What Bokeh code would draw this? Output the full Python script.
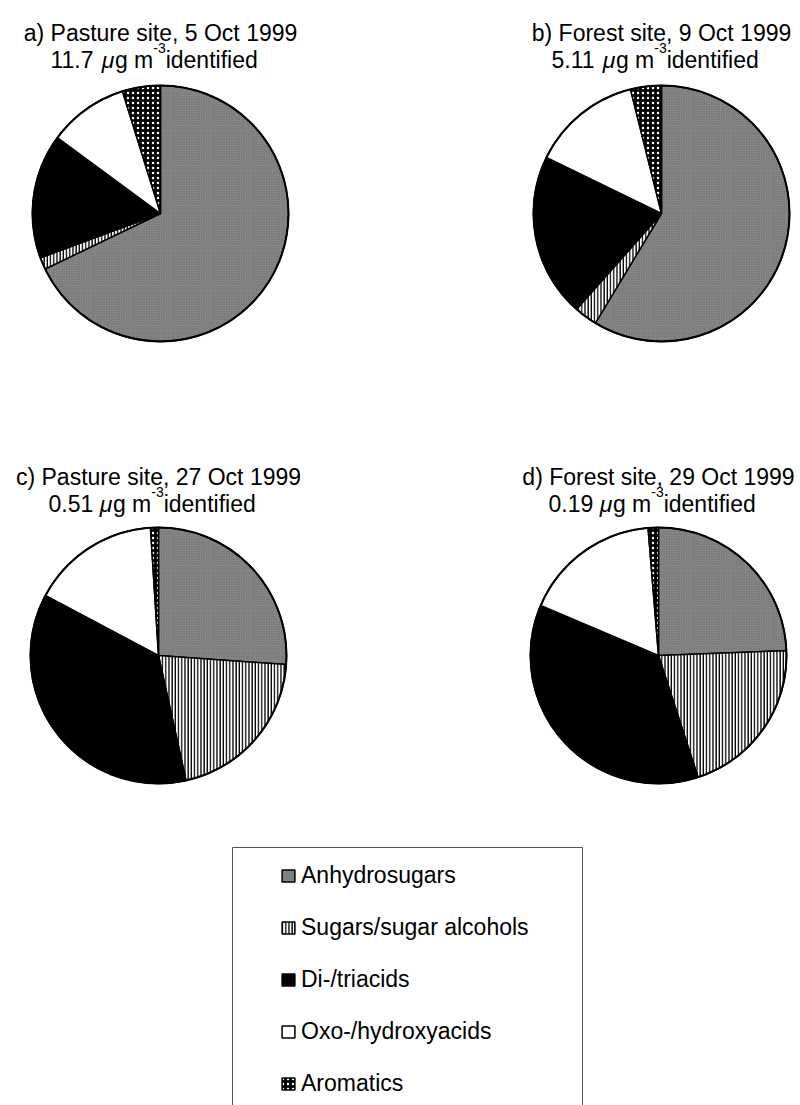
import numpy as np
from bokeh.plotting import figure
from bokeh.models import ColumnDataSource, Range1d, Legend, LegendItem
from bokeh.core.properties import value
from bokeh.embed import file_html
from bokeh.resources import INLINE

# ---------------- data ----------------
categories = ["Anhydrosugars", "Sugars/sugar alcohols", "Di-/triacids",
              "Oxo-/hydroxyacids", "Aromatics"]
panel_titles = ["a) Pasture site, 5 Oct 1999", "b) Forest site, 9 Oct 1999",
                "c) Pasture site, 27 Oct 1999", "d) Forest site, 29 Oct 1999"]
identified_totals = ["11.7", "5.11", "0.51", "0.19"]   # µg m-3
pasture_5oct = [67.8, 1.5, 15.7, 10.1, 4.8]     # % of identified mass
forest_9oct = [58.7, 2.9, 20.7, 13.9, 3.9]
pasture_27oct = [26.1, 20.4, 36.2, 16.2, 1.0]
forest_29oct = [24.4, 20.6, 36.4, 17.3, 1.3]
samples = [pasture_5oct, forest_9oct, pasture_27oct, forest_29oct]

# ---------------- layout ----------------
FONT = "Liberation Sans"
FS = 23
SUP = 14
centers = [(160, 213), (661, 213), (158, 655), (658, 655)]
R = 128
title_base = [(32, 59), (32, 59), (476, 503), (476, 503)]

p = figure(width=800, height=1105, x_range=Range1d(0, 800), y_range=Range1d(1105, 0),
           output_backend="svg", toolbar_location=None, min_border=0,
           x_axis_type=None, y_axis_type=None, outline_line_color=None,
           background_fill_color="white", border_fill_color="white")

styles = [
    dict(fill_color="#8e8e8e", hatch_pattern="diagonal_cross", hatch_color="#3c3c3c",
         hatch_scale=2.5, hatch_weight=0.6, hatch_alpha=0.45),
    dict(fill_color="white", hatch_pattern="vertical_line", hatch_color="black",
         hatch_scale=3.2, hatch_weight=1.4),
    dict(fill_color="black"),
    dict(fill_color="white"),
    dict(fill_color="black", hatch_pattern="dot", hatch_color="white",
         hatch_scale=5, hatch_weight=1),
]

vals = np.array(samples, dtype=float)
frac = vals / vals.sum(axis=1, keepdims=True)
cum = np.cumsum(frac, axis=1)
start_cw = 2 * np.pi * (cum - frac)
end_cw = 2 * np.pi * cum

renderers = []
for j, cat in enumerate(categories):
    src = ColumnDataSource(dict(
        x=[c[0] for c in centers], y=[c[1] for c in centers],
        start=list(np.pi / 2 - start_cw[:, j]), end=list(np.pi / 2 - end_cw[:, j]),
    ))
    r = p.wedge(x="x", y="y", radius=R, start_angle="start", end_angle="end",
                direction="clock", source=src, line_color="black", line_width=1.5,
                **styles[j])
    renderers.append(r)

p.circle(x=[c[0] for c in centers], y=[c[1] for c in centers], radius=R,
         fill_color=None, line_color="black", line_width=2)

# ---------------- titles ----------------
W = {'0': .556, '1': .556, '2': .556, '3': .556, '4': .556, '5': .556, '6': .556,
     '7': .556, '8': .556, '9': .556, '.': .278, ' ': .278, 'g': .556, 'm': .833,
     'i': .222, 'd': .556, 'e': .556, 'n': .556, 't': .278, 'f': .278, '-': .333,
     'μ': .576}


def tw(s, size):
    return sum(W.get(ch, .556) for ch in s) * size


t1 = dict(x=[], y=[], t=[])
norm = dict(x=[], y=[], t=[])
ital = dict(x=[], y=[], t=[])
sup = dict(x=[], y=[], t=[])
for k in range(4):
    cx, cy = centers[k]
    b1, b2 = title_base[k]
    t1["x"].append(cx); t1["y"].append(b1); t1["t"].append(panel_titles[k])
    pieces = [(identified_totals[k] + " ", norm, FS, 0), ("μ", ital, FS, 0),
              ("g m", norm, FS, 0), ("-3", sup, SUP, -12), ("  identified", norm, FS, 0)]
    total = sum(tw(s, sz) for s, _, sz, _ in pieces)
    x = cx - total / 2
    for s, d, sz, dy in pieces:
        d["x"].append(x); d["y"].append(b2 + dy); d["t"].append(s)
        x += tw(s, sz)

p.text(x="x", y="y", text="t", source=ColumnDataSource(t1), text_align="center",
       text_baseline="alphabetic", text_font=value(FONT), text_font_size=f"{FS}px",
       text_color="black")
for d, sz, st in [(norm, FS, "normal"), (ital, FS, "italic"), (sup, SUP, "normal")]:
    p.text(x="x", y="y", text="t", source=ColumnDataSource(d), text_align="left",
           text_baseline="alphabetic", text_font=value(FONT), text_font_size=f"{sz}px",
           text_font_style=st, text_color="black")

# ---------------- legend ----------------
p.quad(left=[232], right=[582], top=[847], bottom=[1130], fill_color=None,
       line_color="#555555", line_width=1)

legend = Legend(items=[LegendItem(label=c, renderers=[r]) for c, r in zip(categories, renderers)],
                location=(280, 8.5), padding=0, spacing=25, label_height=24,
                glyph_height=15, glyph_width=16, label_standoff=5, margin=0,
                label_text_font=FONT, label_text_font_size=f"{FS}px",
                label_text_color="black",
                border_line_alpha=0, background_fill_alpha=0)
p.add_layout(legend)

open("out.html", "w").write(file_html(p, INLINE))
